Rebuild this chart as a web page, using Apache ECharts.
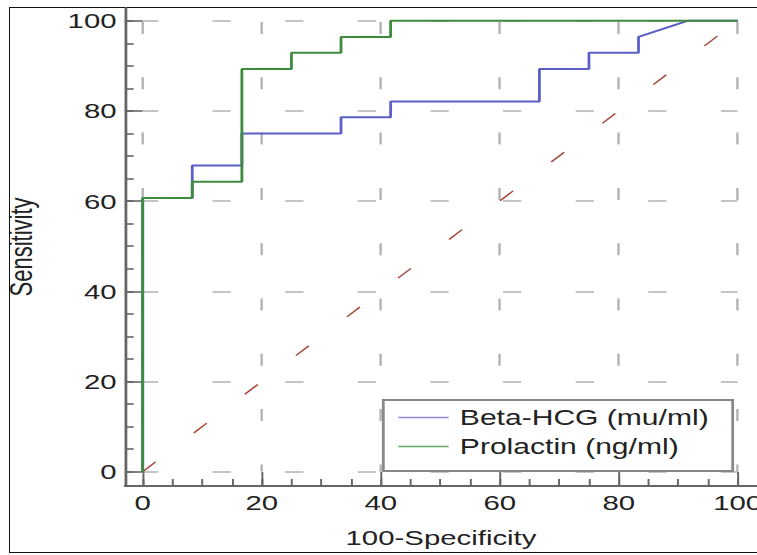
<!DOCTYPE html>
<html>
<head>
<meta charset="utf-8">
<script src="https://cdn.jsdelivr.net/npm/echarts@6/dist/echarts.min.js"></script>
<style>
html,body{margin:0;padding:0;background:#fff;overflow:hidden;width:757px;height:555px;}
#frame{position:absolute;left:9px;top:7px;width:770px;height:546px;border:1.5px solid #111;box-sizing:border-box;}
#chart{position:absolute;left:0;top:0;width:541px;height:555px;transform-origin:0 0;}
</style>
</head>
<body>
<div id="frame"></div>
<div id="chart"></div>
<script>
// ---- data ----
const seriesNames = ['Beta-HCG (mu/ml)', 'Prolactin (ng/ml)'];
const betaX = [0, 0, 8.33, 8.33, 16.67, 16.67, 33.33, 33.33, 41.67, 41.67, 66.67, 66.67, 75, 75, 83.33, 83.33, 91.67, 100];
const betaY = [0, 60.7, 60.7, 67.9, 67.9, 75, 75, 78.6, 78.6, 82.1, 82.1, 89.3, 89.3, 92.9, 92.9, 96.4, 100, 100];
const prolX = [0, 0, 8.33, 8.33, 16.67, 16.67, 25, 25, 33.33, 33.33, 41.67, 41.67, 100];
const prolY = [0, 60.7, 60.7, 64.3, 64.3, 89.3, 89.3, 92.9, 92.9, 96.4, 96.4, 100, 100];
const diagX = [0, 100];
const diagY = [0, 100];
const majorTicks = [0, 20, 40, 60, 80, 100];
const minorTicks = [0, 5, 10, 15, 20, 25, 30, 35, 40, 45, 50, 55, 60, 65, 70, 75, 80, 85, 90, 95, 100];
const xTitle = '100-Specificity';
const yTitle = 'Sensitivity';

// ---- layout ----
const W = 541, H = 555;
const S = 757 / W;
document.getElementById('chart').style.transform = 'scaleX(' + S + ')';
const ref = {x0: 142.7, x100: 737.7, y100: 20.7, y0: 471.7, axisX: 125, axisY: 486, top: 8, right: 757};
const pxPerX = (ref.x100 - ref.x0) / 100;
const pxPerY = (ref.y0 - ref.y100) / 100;
const xMinB = -(ref.x0 - ref.axisX) / pxPerX;
const xMaxB = 100 + (ref.right - ref.x100) / pxPerX;
const yMinB = -(ref.axisY - ref.y0) / pxPerY;
const yMaxB = 100 + (ref.y100 - ref.top) / pxPerY;
const FONT = '"Liberation Sans", Arial, sans-serif';
const axisColor = '#666';
const gridColor = '#b3b3b3';

function zip(xs, ys) { return xs.map((x, i) => [x, ys[i]]); }

const chart = echarts.init(document.getElementById('chart'), null, {renderer: 'svg', width: W, height: H});

const option = {
  animation: false,
  backgroundColor: 'transparent',
  grid: [
    {left: ref.x0 / S, right: W - ref.x100 / S, top: ref.y100, bottom: H - ref.y0,
      containLabel: false, outerBoundsMode: 'none'},
    {left: ref.axisX / S, right: W - ref.right / S, top: ref.top, bottom: H - ref.axisY,
      containLabel: false, outerBoundsMode: 'none'}
  ],
  xAxis: [
    {gridIndex: 0, type: 'value', min: 0, max: 100, interval: 20,
      axisLine: {show: false}, axisTick: {show: false}, axisLabel: {show: false},
      splitLine: {show: true, lineStyle: {color: gridColor, width: 1.7, type: [12, 43.3], dashOffset: 54.3}}},
    {gridIndex: 1, type: 'value', min: xMinB, max: xMaxB, position: 'bottom',
      axisLine: {show: true, onZero: false, lineStyle: {color: axisColor, width: 2}},
      axisTick: {show: true, inside: true, length: 7, customValues: minorTicks, lineStyle: {color: axisColor, width: 1.4}},
      axisLabel: {show: true, customValues: majorTicks, margin: 6.5, fontSize: 21, color: '#222', fontFamily: FONT},
      splitLine: {show: false},
      name: xTitle, nameLocation: 'middle', nameGap: 41,
      nameTextStyle: {fontSize: 21, color: '#222', fontFamily: FONT}},
    {gridIndex: 1, type: 'value', min: xMinB, max: xMaxB, position: 'bottom',
      axisLine: {show: false, onZero: false},
      axisTick: {show: true, inside: true, length: 14, customValues: majorTicks, lineStyle: {color: axisColor, width: 1.4}},
      axisLabel: {show: false}, splitLine: {show: false}}
  ],
  yAxis: [
    {gridIndex: 0, type: 'value', min: 0, max: 100, interval: 20,
      axisLine: {show: false}, axisTick: {show: false}, axisLabel: {show: false},
      splitLine: {show: true, lineStyle: {color: gridColor, width: 1.7, type: [13.1, 38.8], dashOffset: 2.1}}},
    {gridIndex: 1, type: 'value', min: yMinB, max: yMaxB, position: 'left',
      axisLine: {show: true, onZero: false, lineStyle: {color: axisColor, width: 2}},
      axisTick: {show: true, inside: true, length: 6.2, customValues: minorTicks, lineStyle: {color: axisColor, width: 1.6}},
      axisLabel: {show: true, customValues: majorTicks, margin: 6, fontSize: 21, color: '#222', fontFamily: FONT},
      splitLine: {show: false},
      name: yTitle, nameLocation: 'middle', nameGap: 63,
      nameTextStyle: {fontSize: 22, color: '#222', fontFamily: FONT}},
    {gridIndex: 1, type: 'value', min: yMinB, max: yMaxB, position: 'left',
      axisLine: {show: false, onZero: false},
      axisTick: {show: true, inside: true, length: 12.6, customValues: majorTicks, lineStyle: {color: axisColor, width: 1.6}},
      axisLabel: {show: false}, splitLine: {show: false}}
  ],
  legend: {
    orient: 'vertical', left: 383.3 / S, top: 400,
    padding: [6.5, 17, 13.5, 10.7], itemGap: 7, itemWidth: 36, itemHeight: 1.6, icon: 'rect',
    backgroundColor: '#fff', borderColor: '#888', borderWidth: 2, borderRadius: 0,
    textStyle: {fontSize: 21.5, color: '#222', fontFamily: FONT, padding: [0, 0, 0, 3]},
    data: [
      {name: seriesNames[0], itemStyle: {color: '#8a8ad8'}},
      {name: seriesNames[1], itemStyle: {color: '#64a664'}}
    ]
  },
  series: [
    {type: 'line', name: 'Reference', xAxisIndex: 0, yAxisIndex: 0, data: zip(diagX, diagY),
      symbol: 'none', clip: false, silent: true,
      lineStyle: {color: '#a8483c', width: 1.3, type: [13.5, 39.7]}},
    {type: 'line', name: seriesNames[0], xAxisIndex: 0, yAxisIndex: 0, data: zip(betaX, betaY),
      symbol: 'none', clip: false, itemStyle: {color: '#5b5fc7'},
      lineStyle: {color: '#5b5fc7', width: 2}},
    {type: 'line', name: seriesNames[1], xAxisIndex: 0, yAxisIndex: 0, data: zip(prolX, prolY),
      symbol: 'none', clip: false, itemStyle: {color: '#3c8c3c'},
      lineStyle: {color: '#3c8c3c', width: 2}}
  ]
};
chart.setOption(option);
</script>
</body>
</html>
